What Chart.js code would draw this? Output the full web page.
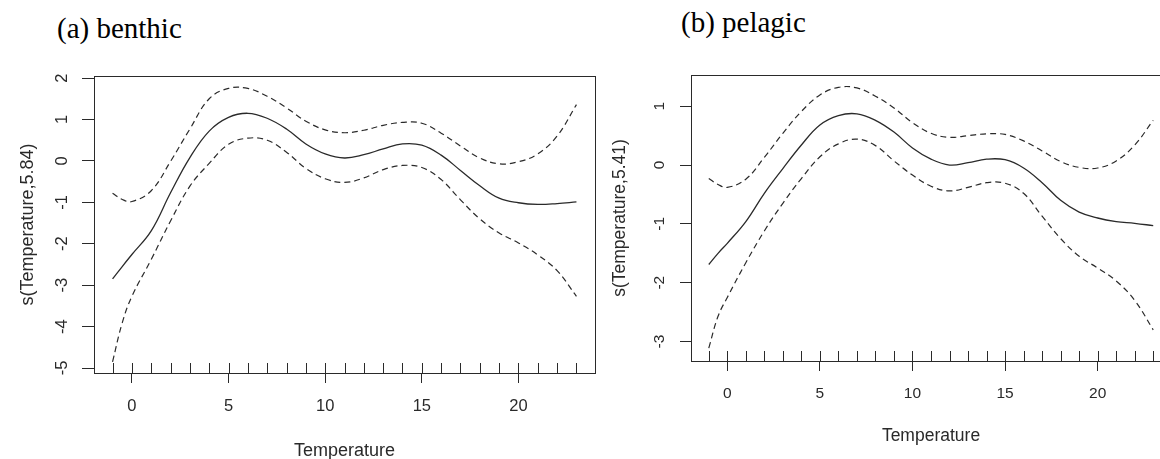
<!DOCTYPE html>
<html>
<head>
<meta charset="utf-8">
<script src="https://cdn.jsdelivr.net/npm/chart.js@4.4.0/dist/chart.umd.min.js"></script>
<style>
  body { margin: 0; width: 1160px; height: 459px; overflow: hidden; background: #fff; position: relative; }
  canvas { position: absolute; top: 0; }
  .panel-title { position: absolute; font-family: "Liberation Serif", "Times New Roman", serif; font-size: 29px; line-height: 29px; color: #000; white-space: nowrap; }
</style>
</head>
<body>
<div class="panel-title" style="left:57px;top:14px">(a) benthic</div>
<div class="panel-title" style="left:681px;top:8px">(b) pelagic</div>
<canvas id="benthic" width="600" height="459" style="left:0"></canvas>
<canvas id="pelagic" width="580" height="459" style="left:600px"></canvas>
<script>
// temperature grid the smooths were read at
const temperature = [-1, -0.5, 0, 1, 2, 3, 4, 5, 6, 7, 8, 9, 10, 11, 12, 13, 14, 15, 16, 17, 18, 19, 20, 21, 22, 23];

// (a) benthic: fitted smooth and +/- 2 se bands
const benthicFit   = [-2.85, -2.55, -2.26, -1.69, -0.77, 0.08, 0.72, 1.05, 1.15, 1.03, 0.77, 0.41, 0.17, 0.07, 0.15, 0.29, 0.41, 0.38, 0.14, -0.23, -0.6, -0.9, -1.01, -1.05, -1.03, -0.99];
const benthicUpper = [-0.78, -0.93, -0.98, -0.72, -0.01, 0.77, 1.5, 1.75, 1.75, 1.56, 1.28, 0.96, 0.75, 0.68, 0.74, 0.86, 0.93, 0.91, 0.67, 0.36, 0.07, -0.07, -0.02, 0.17, 0.6, 1.36];
const benthicLower = [-4.85, -3.91, -3.27, -2.38, -1.45, -0.61, -0.06, 0.4, 0.55, 0.5, 0.21, -0.18, -0.43, -0.52, -0.41, -0.21, -0.11, -0.16, -0.45, -0.94, -1.4, -1.74, -1.98, -2.27, -2.65, -3.27];

// (b) pelagic
const pelagicFit   = [-1.69, -1.5, -1.33, -0.96, -0.48, -0.06, 0.34, 0.68, 0.84, 0.87, 0.76, 0.56, 0.29, 0.1, 0.0, 0.04, 0.1, 0.09, -0.05, -0.3, -0.6, -0.8, -0.9, -0.96, -0.99, -1.03];
const pelagicUpper = [-0.23, -0.33, -0.38, -0.24, 0.13, 0.54, 0.91, 1.19, 1.32, 1.31, 1.17, 0.97, 0.72, 0.54, 0.47, 0.5, 0.53, 0.52, 0.41, 0.24, 0.06, -0.04, -0.05, 0.07, 0.34, 0.76];
const pelagicLower = [-3.11, -2.57, -2.25, -1.66, -1.12, -0.65, -0.23, 0.14, 0.36, 0.44, 0.33, 0.07, -0.17, -0.36, -0.44, -0.38, -0.3, -0.31, -0.48, -0.87, -1.25, -1.55, -1.75, -1.97, -2.3, -2.8];

// rug of observed temperatures
const rugTemps = [-1, 0, 1, 2, 3, 4, 5, 6, 7, 8, 9, 10, 11, 12, 13, 14, 15, 16, 17, 18, 19, 20, 21, 22, 23];

// tick labels
const xTicks = [0, 5, 10, 15, 20];
const benthicYTicks = [-5, -4, -3, -2, -1, 0, 1, 2];
const pelagicYTicks = [-3, -2, -1, 0, 1];

const SANS = 'Liberation Sans, Arial, sans-serif';
const INK = '#2a2a2a';

// box around the plot, rug along the bottom, rotated y labels (R style)
const gamFrame = {
  id: 'gamFrame',
  afterDraw(chart, args, opts) {
    const { ctx, chartArea: a, scales: { x, y } } = chart;
    ctx.save();
    ctx.strokeStyle = INK;
    ctx.lineWidth = 1;
    ctx.strokeRect(Math.round(a.left) + 0.5, Math.round(a.top) + 0.5,
                   Math.round(a.right - a.left), Math.round(a.bottom - a.top));

    ctx.beginPath();
    rugTemps.forEach(t => {
      const px = Math.round(x.getPixelForValue(t)) + 0.5;
      ctx.moveTo(px, a.bottom);
      ctx.lineTo(px, a.bottom - opts.rugLength);
    });
    ctx.stroke();

    ctx.fillStyle = INK;
    ctx.font = opts.tickSize + 'px ' + SANS;
    ctx.textAlign = 'center';
    ctx.textBaseline = 'middle';
    y.ticks.forEach(t => {
      ctx.save();
      ctx.translate(a.left - opts.labelGap, y.getPixelForValue(t.value));
      ctx.rotate(-Math.PI / 2);
      ctx.fillText(String(t.value), 0, 0);
      ctx.restore();
    });
    ctx.restore();
  }
};

function makePanel(id, fit, upper, lower, yTicks, yLabel, cfg) {
  const pts = arr => temperature.map((t, i) => ({ x: t, y: arr[i] }));
  const line = (data, dashed) => ({
    data,
    showLine: true,
    borderColor: INK,
    borderWidth: dashed ? 1.2 : 1.3,
    borderDash: dashed ? [6, 4] : [],
    pointRadius: 0,
    tension: 0.4
  });

  return new Chart(document.getElementById(id), {
    type: 'scatter',
    data: {
      datasets: [line(pts(fit), false), line(pts(upper), true), line(pts(lower), true)]
    },
    options: {
      responsive: false,
      animation: false,
      layout: { padding: { left: 0, top: cfg.top, right: cfg.right, bottom: 0 } },
      plugins: {
        legend: { display: false },
        tooltip: { enabled: false },
        gamFrame: { rugLength: 10, tickSize: cfg.tickSize, labelGap: cfg.labelGap }
      },
      scales: {
        x: {
          type: 'linear',
          min: -1.96,
          max: 23.96,
          afterBuildTicks: s => { s.ticks = xTicks.map(v => ({ value: v })); },
          afterFit: s => { s.height = cfg.xHeight; },
          grid: { drawOnChartArea: false, drawTicks: true, tickLength: 10, tickColor: INK },
          border: { color: INK, width: 1 },
          ticks: { color: INK, padding: cfg.xTickPad, maxRotation: 0, font: { family: SANS, size: cfg.tickSize } },
          title: { display: true, text: 'Temperature', color: INK, padding: { top: 0, bottom: cfg.xTitlePad },
                   font: { family: SANS, size: cfg.titleSize } }
        },
        y: {
          type: 'linear',
          min: cfg.yMin,
          max: cfg.yMax,
          afterBuildTicks: s => { s.ticks = yTicks.map(v => ({ value: v })); },
          afterFit: s => { s.width = cfg.yWidth; },
          grid: { drawOnChartArea: false, drawTicks: true, tickLength: cfg.yTickLen, tickColor: INK },
          border: { color: INK, width: 1 },
          ticks: { display: false },
          title: { display: true, text: yLabel, color: INK, padding: { top: cfg.yTitlePad, bottom: 0 },
                   font: { family: SANS, size: cfg.titleSize } }
        }
      }
    },
    plugins: [gamFrame]
  });
}

makePanel('benthic', benthicFit, benthicUpper, benthicLower, benthicYTicks, 's(Temperature,5.84)', {
  top: 76, right: 5, yWidth: 94, xHeight: 86, yMin: -5.12, yMax: 2.05,
  tickSize: 16.5, titleSize: 18, xTickPad: 14, xTitlePad: -3, yTitlePad: 17, yTickLen: 12, labelGap: 32
});

makePanel('pelagic', pelagicFit, pelagicUpper, pelagicLower, pelagicYTicks, 's(Temperature,5.41)', {
  top: 75, right: 9, yWidth: 91, xHeight: 98, yMin: -3.33, yMax: 1.53,
  tickSize: 15.5, titleSize: 17.5, xTickPad: 13, xTitlePad: 12, yTitlePad: 9.5, yTickLen: 11, labelGap: 31
});
</script>
</body>
</html>
